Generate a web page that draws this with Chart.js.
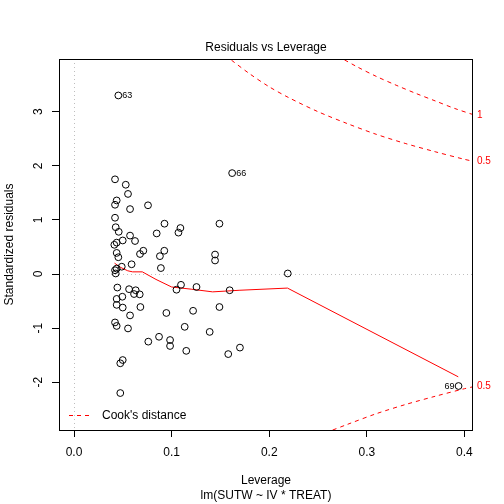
<!DOCTYPE html>
<html>
<head>
<meta charset="utf-8">
<script src="https://cdn.jsdelivr.net/npm/chart.js@4.4.1/dist/chart.umd.min.js"></script>
<style>
  html, body { margin: 0; padding: 0; background: #fff; }
  canvas { display: block; }
</style>
</head>
<body>
<canvas id="plot" width="504" height="504"></canvas>
<script>
// ── data ─────────────────────────────────────────────────────
const leverage = [
  0.0454, 0.162, 0.0420, 0.053, 0.0553, 0.0437, 0.042, 0.0574, 0.0758, 0.042,
  0.0427, 0.0458, 0.0574, 0.0499, 0.0625, 0.0847, 0.0927, 0.0413, 0.0437, 0.0437,
  0.0454, 0.0676, 0.071, 0.088, 0.0925, 0.109, 0.107, 0.149, 0.1445, 0.1445,
  0.219, 0.1595, 0.149, 0.139, 0.170, 0.158, 0.394, 0.059, 0.0437, 0.042,
  0.0427, 0.0489, 0.089, 0.0444, 0.0564, 0.0632, 0.0615, 0.0673, 0.0437, 0.0495,
  0.0437, 0.0499, 0.068, 0.0574, 0.042, 0.0437, 0.0553, 0.0761, 0.0871, 0.0946,
  0.122, 0.1134, 0.0984, 0.0984, 0.115, 0.105, 0.1096, 0.1255, 0.0499, 0.0474,
  0.0474
];
const stdResid = [
  3.30, 1.865, 1.75, 1.65, 1.48, 1.36, 1.28, 1.20, 1.27, 1.04,
  0.865, 0.78, 0.71, 0.62, 0.61, 0.75, 0.93, 0.54, 0.58, 0.39,
  0.31, 0.37, 0.43, 0.33, 0.43, 0.85, 0.765, 0.93, 0.36, 0.25,
  0.01, -0.30, -0.61, -1.07, -1.36, -1.48, -2.07, 0.18, 0.10, 0.07,
  0.01, 0.135, 0.11, -0.25, -0.28, -0.30, -0.37, -0.376, -0.46, -0.42,
  -0.57, -0.62, -0.61, -0.765, -0.895, -0.96, -1.006, -1.25, -1.16, -0.72,
  -0.68, -0.976, -1.22, -1.33, -1.42, -0.29, -0.20, -0.24, -1.59, -1.65,
  -2.20
];
// labelled observations: index into the arrays above, and their ids
const idIndex = [0, 1, 36];
const idText = ['63', '66', '69'];

// red smoother
const smoothX = [0.0415, 0.048, 0.055, 0.060, 0.070, 0.084, 0.100, 0.120, 0.142, 0.170, 0.2187, 0.3937];
const smoothY = [0.20, 0.12, 0.06, 0.04, 0.04, -0.10, -0.24, -0.28, -0.33, -0.30, -0.26, -1.90];

// Cook's distance contours
const cookHalfX = [0.155, 0.16, 0.18, 0.20, 0.22, 0.25, 0.28, 0.31, 0.34, 0.37, 0.40, 0.41];
const cookHalfY = [4.04, 3.97, 3.70, 3.46, 3.26, 3.00, 2.78, 2.58, 2.41, 2.26, 2.12, 2.08];
const cookOneX = [0.27, 0.29, 0.31, 0.33, 0.35, 0.37, 0.39, 0.41];
const cookOneY = [4.03, 3.83, 3.65, 3.49, 3.34, 3.20, 3.06, 2.94];
const cookHalfLowX = [0.25, 0.26, 0.28, 0.31, 0.34, 0.37, 0.40, 0.41];
const cookHalfLowY = [-3.00, -2.92, -2.78, -2.58, -2.41, -2.26, -2.12, -2.08];
const cookLabels = ['1', '0.5', '0.5'];
const cookLabelY = [2.94, 2.08, -2.08];

const xTicks = [0, 0.1, 0.2, 0.3, 0.4];
const yTicks = [-2, -1, 0, 1, 2, 3];

// ── styling ──────────────────────────────────────────────────
const FONT = "'Liberation Sans', Arial, Helvetica, sans-serif";
const RED = '#ff0000';
Chart.defaults.font.family = FONT;
Chart.defaults.color = '#000';

const zip = (xs, ys) => xs.map((x, i) => ({ x, y: ys[i] }));

const curve = (xs, ys, dash, tension) => ({
    data: zip(xs, ys),
    showLine: true,
    borderColor: RED,
    borderWidth: 1,
    borderDash: dash,
    pointRadius: 0,
    pointHoverRadius: 0,
    tension,
    fill: false,
});

// everything R draws around the plot region
const rDecor = {
    id: 'rDecor',
    beforeDatasetsDraw(chart) {
        const { ctx, chartArea: a, scales: { x, y } } = chart;
        ctx.save();
        ctx.strokeStyle = '#bebebe';
        ctx.lineWidth = 1;
        ctx.setLineDash([1, 3]);
        const y0 = Math.round(y.getPixelForValue(0)) + 0.5;
        const x0 = Math.round(x.getPixelForValue(0)) + 0.5;
        ctx.beginPath();
        ctx.moveTo(a.left, y0); ctx.lineTo(a.right, y0);
        ctx.moveTo(x0, a.top); ctx.lineTo(x0, a.bottom);
        ctx.stroke();
        ctx.restore();
    },
    afterDraw(chart) {
        const { ctx, chartArea: a, scales: { x, y } } = chart;
        const midX = (a.left + a.right) / 2;
        ctx.save();

        // box
        ctx.strokeStyle = '#000';
        ctx.lineWidth = 1;
        ctx.strokeRect(a.left + 0.5, a.top + 0.5, a.right - a.left - 1, a.bottom - a.top);

        // title + axis titles
        ctx.fillStyle = '#000';
        ctx.font = '12px ' + FONT;
        ctx.textAlign = 'center';
        ctx.textBaseline = 'middle';
        ctx.fillText('Residuals vs Leverage', midX, 48);
        ctx.fillText('Leverage', midX, 481);
        ctx.fillText('lm(SUTW ~ IV * TREAT)', midX, 496);

        // rotated y tick labels and y title
        yTicks.forEach(v => {
            ctx.save();
            ctx.translate(39, y.getPixelForValue(v));
            ctx.rotate(-Math.PI / 2);
            ctx.fillText(String(v), 0, 0);
            ctx.restore();
        });
        ctx.save();
        ctx.translate(10, (a.top + a.bottom) / 2);
        ctx.rotate(-Math.PI / 2);
        ctx.fillText('Standardized residuals', 0, 0);
        ctx.restore();

        // point ids
        ctx.font = '9px ' + FONT;
        idIndex.forEach((k, j) => {
            const px = x.getPixelForValue(leverage[k]);
            const py = y.getPixelForValue(stdResid[k]);
            if (leverage[k] > 0.2) {
                ctx.textAlign = 'right';
                ctx.fillText(idText[j], px - 4, py + 1);
            } else {
                ctx.textAlign = 'left';
                ctx.fillText(idText[j], px + 4, py);
            }
        });

        // Cook's contour levels in the right margin
        ctx.font = '10px ' + FONT;
        ctx.fillStyle = RED;
        ctx.textAlign = 'left';
        cookLabels.forEach((t, j) => {
            ctx.fillText(t, a.right + 4, y.getPixelForValue(cookLabelY[j]));
        });

        // legend
        ctx.strokeStyle = RED;
        ctx.lineWidth = 1;
        ctx.setLineDash([4, 4]);
        ctx.beginPath();
        ctx.moveTo(69, 415.5); ctx.lineTo(92, 415.5);
        ctx.stroke();
        ctx.setLineDash([]);
        ctx.fillStyle = '#000';
        ctx.font = '12px ' + FONT;
        ctx.fillText("Cook's distance", 102, 416);

        ctx.restore();
    },
};

new Chart(document.getElementById('plot'), {
    type: 'scatter',
    data: {
        datasets: [
            {
                data: zip(leverage, stdResid),
                borderColor: '#000',
                backgroundColor: 'rgba(0,0,0,0)',
                borderWidth: 1,
                pointRadius: 3.4,
                pointHoverRadius: 3.4,
            },
            curve(smoothX, smoothY, [], 0),
            curve(cookHalfX, cookHalfY, [4, 4], 0.3),
            curve(cookOneX, cookOneY, [4, 4], 0.3),
            curve(cookHalfLowX, cookHalfLowY, [4, 4], 0.3),
        ],
    },
    options: {
        responsive: false,
        animation: false,
        events: [],
        layout: { padding: { top: 59, right: 31, left: 0, bottom: 0 } },
        plugins: { legend: { display: false }, tooltip: { enabled: false }, title: { display: false } },
        scales: {
            x: {
                type: 'linear',
                min: -0.0154, max: 0.4088,
                afterBuildTicks: s => { s.ticks = xTicks.map(v => ({ value: v })); },
                afterFit: s => { s.height = 74; },
                grid: { drawOnChartArea: false, drawTicks: true, tickLength: 7, color: '#000', tickColor: '#000' },
                border: { display: false },
                ticks: {
                    font: { size: 12 }, color: '#000', padding: 8,
                    maxRotation: 0, autoSkip: false,
                    callback: v => Number(v).toFixed(1),
                },
            },
            y: {
                type: 'linear',
                min: -2.883, max: 3.974,
                afterBuildTicks: s => { s.ticks = yTicks.map(v => ({ value: v })); },
                afterFit: s => { s.width = 59; },
                grid: { drawOnChartArea: false, drawTicks: true, tickLength: 7, color: '#000', tickColor: '#000' },
                border: { display: false },
                ticks: { display: false },
            },
        },
    },
    plugins: [rDecor],
});
</script>
</body>
</html>
